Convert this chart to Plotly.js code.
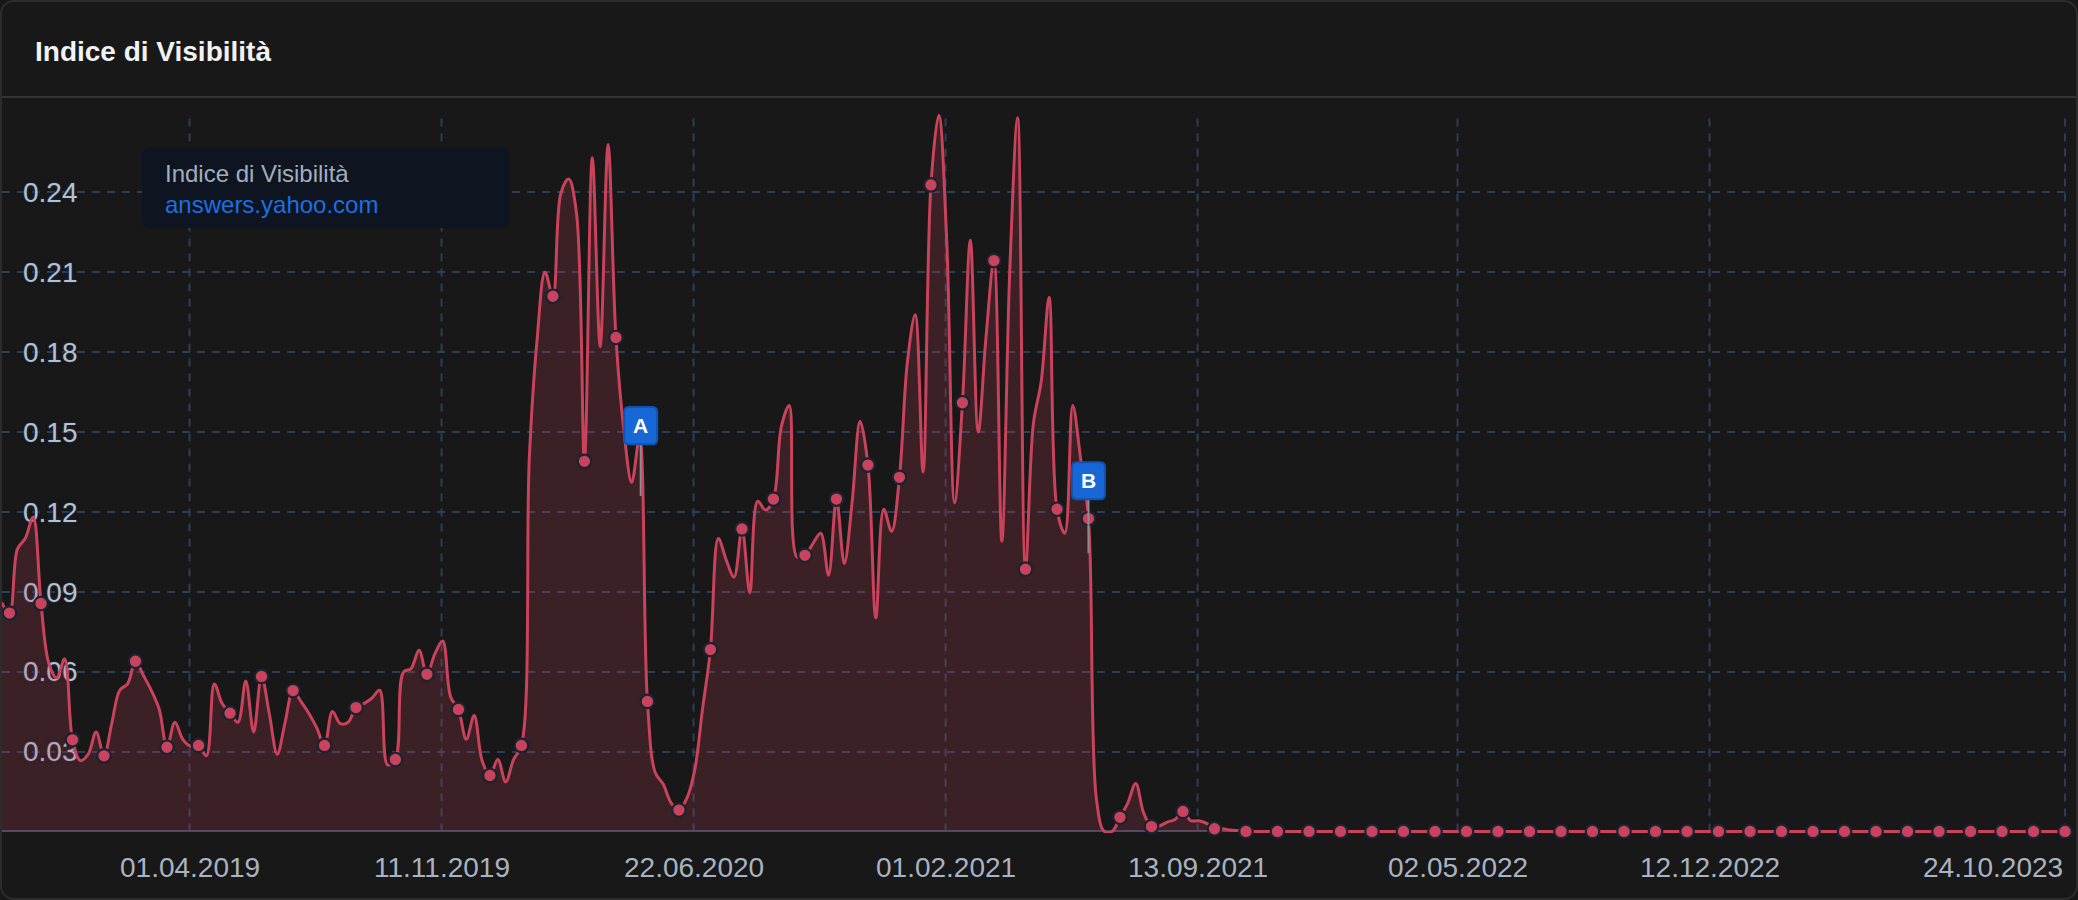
<!DOCTYPE html>
<html>
<head>
<meta charset="utf-8">
<script src="https://cdn.plot.ly/plotly-3.0.1.min.js"></script>
<style>
  html, body { margin: 0; padding: 0; background: #181818; width: 2078px; height: 900px; overflow: hidden; }
  #card { position: absolute; left: 0; top: 0; width: 2074px; height: 896px; border: 2px solid #2c2c2c; border-radius: 14px; background: #181818; }
  #sep { position: absolute; left: 2px; top: 96px; width: 2074px; height: 2px; background: #343434; }
  #chart { position: absolute; left: 0; top: 0; width: 2078px; height: 900px; }
</style>
</head>
<body>
<div id="card"></div>
<div id="sep"></div>
<div id="chart"></div>
<script>
// ---- data ----
const seriesName = 'Indice di Visibilità';
const domainName = 'answers.yahoo.com';
const firstWeek = '2018-10-16';   // weekly samples from this date
const visibility = [
  0.086,
  0.082, 0.106, 0.110, 0.118, 0.0856, 0.063, 0.0577, 0.0648, 0.0344, 0.0266,
  0.029, 0.0373, 0.0284, 0.0408, 0.053, 0.0554, 0.0639, 0.0586, 0.053, 0.046,
  0.0316, 0.041, 0.0346, 0.032, 0.0323, 0.0284, 0.0554, 0.048, 0.0444, 0.041,
  0.0565, 0.0373, 0.0582, 0.044, 0.029, 0.041, 0.0529, 0.0488, 0.0444, 0.039,
  0.0323, 0.045, 0.0405, 0.041, 0.0465, 0.048, 0.050, 0.053, 0.025, 0.027,
  0.0597, 0.0612, 0.068, 0.059, 0.0666, 0.0715, 0.0506, 0.0458, 0.0346, 0.0435,
  0.0266, 0.021, 0.027, 0.0186, 0.027, 0.0323, 0.14, 0.185, 0.210, 0.201,
  0.2396, 0.245, 0.232, 0.139, 0.253, 0.182, 0.258, 0.1855, 0.151, 0.131,
  0.148, 0.0488, 0.022, 0.0178, 0.0107, 0.008, 0.0124, 0.023, 0.046, 0.0683,
  0.110, 0.102, 0.0955, 0.1136, 0.0896, 0.124, 0.1207, 0.1248, 0.152, 0.160,
  0.103, 0.1037, 0.108, 0.112, 0.0962, 0.1248, 0.1006, 0.124, 0.154, 0.1376,
  0.0802, 0.121, 0.1127, 0.133, 0.176, 0.194, 0.135, 0.2428, 0.269, 0.222,
  0.1234, 0.161, 0.222, 0.150, 0.186, 0.2144, 0.109, 0.21, 0.268, 0.0985,
  0.153, 0.169, 0.2006, 0.121, 0.112, 0.160, 0.140, 0.1175, 0.0124, 0,
  0, 0.0053, 0.0107, 0.018, 0.007, 0.0018, 0.002, 0.0035, 0.0045, 0.0075,
  0.004, 0.004, 0.003, 0.001, 0.001, 0.0005, 0.0003, 0, 0, 0,
  0, 0, 0, 0, 0, 0, 0, 0, 0, 0,
  0, 0, 0, 0, 0, 0, 0, 0, 0, 0,
  0, 0, 0, 0, 0, 0, 0, 0, 0, 0,
  0, 0, 0, 0, 0, 0, 0, 0, 0, 0,
  0, 0, 0, 0, 0, 0, 0, 0, 0, 0,
  0, 0, 0, 0, 0, 0, 0, 0, 0, 0,
  0, 0, 0, 0, 0, 0, 0, 0, 0, 0,
  0, 0, 0, 0, 0, 0, 0, 0, 0, 0,
  0, 0, 0, 0, 0, 0, 0, 0, 0, 0,
  0, 0, 0, 0, 0, 0, 0, 0, 0, 0,
  0, 0, 0, 0, 0
];
const xTickDates  = ['2019-04-01', '2019-11-11', '2020-06-22', '2021-02-01', '2021-09-13', '2022-05-02', '2022-12-12', '2023-10-24'];
const xTickLabels = ['01.04.2019', '11.11.2019', '22.06.2020', '01.02.2021', '13.09.2021', '02.05.2022', '12.12.2022', '24.10.2023'];
const yTickVals   = [0.03, 0.06, 0.09, 0.12, 0.15, 0.18, 0.21, 0.24];
const yTickLabels = ['0.03', '0.06', '0.09', '0.12', '0.15', '0.18', '0.21', '0.24'];
const flagLabels = ['A', 'B'];
const flagDates  = ['2020-05-06', '2021-06-08'];
const flagValues = [0.126, 0.1045];

// ---- build ----
const DAY = 864e5;
const t0 = Date.parse(firstWeek + 'T00:00:00Z');
const dates = visibility.map((v, i) => new Date(t0 + i * 7 * DAY).toISOString().slice(0, 10));
// markers shown on every 4th weekly sample (one skipped week in autumn 2019)
const mx = [], my = [];
visibility.forEach((v, i) => {
  const w = i - 1;
  if (w < 0) return;
  if ((w <= 44 && w % 4 === 0) || (w >= 49 && (w - 49) % 4 === 0)) { mx.push(dates[i]); my.push(v); }
});

const W = 2078, H = 900;
const M = { l: 2, r: 12, t: 100, b: 67 };
const PW = W - M.l - M.r, PH = H - M.t - M.b;
const px2px = x => (x - M.l) / PW;
const py2py = y => (H - M.b - y) / PH;

const lineColor = '#c9435c';
const gridColor = '#2c3e59';
const tickFontColor = '#b7c0cd';

const traces = [
  {
    x: dates, y: visibility, type: 'scatter', mode: 'lines',
    line: { color: lineColor, width: 3, shape: 'spline', smoothing: 1 },
    fill: 'tozeroy', fillcolor: 'rgba(201,67,92,0.2)',
    hoverinfo: 'skip', showlegend: false
  },
  {
    x: mx, y: my, type: 'scatter', mode: 'markers', cliponaxis: false,
    marker: { color: lineColor, size: 13.5, line: { color: '#1b2332', width: 2.2 } },
    hoverinfo: 'skip', showlegend: false
  }
];

const shapes = xTickDates.map(d => ({
  type: 'line', xref: 'x', yref: 'y', x0: d, x1: d, y0: 0, y1: 0.2687,
  line: { color: gridColor, width: 2, dash: '8px,7px' }, layer: 'below'
}));
function roundRect(x0, x1, y0, y1, rx, ry) {
  return `M ${x0 + rx} ${y1} L ${x1 - rx} ${y1} Q ${x1} ${y1} ${x1} ${y1 - ry} L ${x1} ${y0 + ry} Q ${x1} ${y0} ${x1 - rx} ${y0} L ${x0 + rx} ${y0} Q ${x0} ${y0} ${x0} ${y0 + ry} L ${x0} ${y1 - ry} Q ${x0} ${y1} ${x0 + rx} ${y1} Z`;
}
// rounded box behind the series label
shapes.push({
  type: 'path', xref: 'paper', yref: 'paper',
  path: roundRect(px2px(142), px2px(510), py2py(228), py2py(148), 8 / PW, 8 / PH),
  fillcolor: '#0e1521', line: { width: 0 }, layer: 'above'
});
// flags: stem + rounded blue box, anchored on the event date / value
const flagGeom = [{ bottom: 51.6, top: 88.9 }, { bottom: 53.9, top: 90.8 }];
flagLabels.forEach((f, i) => {
  const g = flagGeom[i];
  shapes.push({
    type: 'line', xref: 'x', yref: 'y', xsizemode: 'pixel', ysizemode: 'pixel',
    xanchor: flagDates[i], yanchor: flagValues[i], x0: 0, x1: 0, y0: 0, y1: g.bottom,
    line: { color: '#8c8c8c', width: 2 }, layer: 'above'
  });
  shapes.push({
    type: 'path', xref: 'x', yref: 'y', xsizemode: 'pixel', ysizemode: 'pixel',
    xanchor: flagDates[i], yanchor: flagValues[i],
    path: roundRect(-16.5, 16.5, g.bottom, g.top, 5, 5),
    fillcolor: '#1767d6', line: { color: '#0e54b5', width: 2 }, layer: 'above'
  });
});

const annotations = [];
xTickDates.forEach((d, i) => {
  annotations.push({
    x: d, xref: 'x', y: 0, yref: 'paper', yshift: -34,
    xanchor: i === xTickDates.length - 1 ? 'right' : 'center', yanchor: 'middle',
    text: xTickLabels[i], showarrow: false,
    font: { family: 'Liberation Sans, Arial, sans-serif', size: 28, color: '#a9b3c1' }
  });
});
annotations.push({
  x: px2px(162.5), xref: 'paper', y: py2py(189), yref: 'paper',
  xanchor: 'left', yanchor: 'middle', align: 'left', showarrow: false,
  text: seriesName + '<br><span style="color:#1c6fe0">' + domainName + '</span>',
  font: { family: 'Liberation Sans, Arial, sans-serif', size: 24, color: '#a3aebd' }
});
flagLabels.forEach((f, i) => {
  const g = flagGeom[i];
  annotations.push({
    x: flagDates[i], xref: 'x', y: flagValues[i], yref: 'y',
    yshift: (g.bottom + g.top) / 2, xanchor: 'center', yanchor: 'middle',
    text: '<b>' + f + '</b>', showarrow: false,
    font: { family: 'Liberation Sans, Arial, sans-serif', size: 21, color: '#ffffff' }
  });
});

const layout = {
  width: W, height: H,
  margin: M,
  paper_bgcolor: 'rgba(0,0,0,0)', plot_bgcolor: 'rgba(0,0,0,0)',
  title: {
    text: 'Indice di Visibilità', xref: 'container', yref: 'container',
    x: 35 / W, xanchor: 'left', y: 1 - 51.2 / H, yanchor: 'middle',
    font: { family: 'Liberation Sans, Arial, sans-serif', size: 28, color: '#f2f2f2', weight: 700 }
  },
  xaxis: {
    type: 'date', range: ['2018-10-16 08:00', '2023-10-24 20:00'],
    showgrid: false, zeroline: false, showline: false, showticklabels: false, ticks: ''
  },
  yaxis: {
    range: [-0.0006, 0.2747], tickvals: yTickVals, ticktext: yTickLabels,
    showgrid: true, gridcolor: gridColor, gridwidth: 2, griddash: '8px,7px',
    zeroline: true, zerolinecolor: '#3d4d68', zerolinewidth: 2,
    showline: false, ticks: '', ticklabelposition: 'inside', ticklabelstandoff: 18,
    layer: 'below traces',
    tickfont: { family: 'Liberation Sans, Arial, sans-serif', size: 28, color: tickFontColor,
      shadow: '0 0 3px #1b2738, 0 0 3px #1b2738, 0 0 2px #1b2738' }
  },
  shapes: shapes,
  annotations: annotations,
  showlegend: false
};

Plotly.newPlot('chart', traces, layout, { displayModeBar: false, staticPlot: true });
</script>
</body>
</html>
